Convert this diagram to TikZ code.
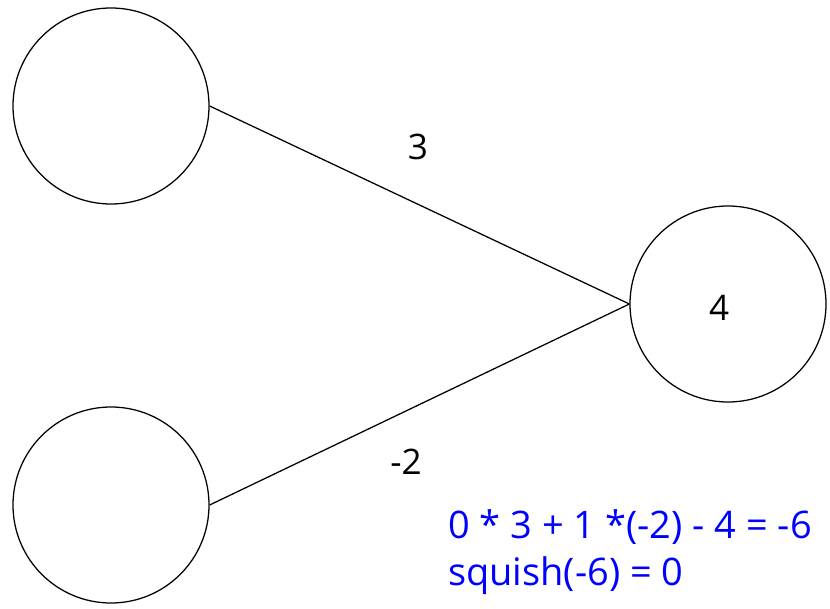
\documentclass[tikz,border=0pt]{standalone}
\usepackage{fontspec}
\setmainfont{Open Sans}
\usepackage{tikz}
\usetikzlibrary{positioning}
\definecolor{Bleu}{RGB}{0,0,255}

\begin{document}
\begin{tikzpicture}[x=1cm,y=1cm,
      neuron/.style={circle,draw=black,line width=0.9pt,minimum size=4.9cm,inner sep=0pt},
      weight/.style={font=\fontsize{25}{30}\selectfont},
      edge/.style={line width=0.9pt,black},
      calc/.style={font=\fontsize{27}{33.5}\selectfont,text=Bleu,align=left}]
    \useasboundingbox (0,0) rectangle (20.75,15.2);

    % Deux entrées et un neurone de sortie.
    \node[neuron] (inA) at (2.775,12.55) {};
    \node[neuron] (inB) at (2.775,2.575) {};
    \node[neuron] (out) at (18.2,7.6) {};
    \node[weight] (bias) at (17.98,7.50) {4};

    \draw[edge] (inA.east) -- (out.west);
    \draw[edge] (inB.east) -- (out.west);
    \node[weight] (wA) at (10.45,11.525) {3};
    \node[weight] (wB) at (10.15,3.65) {-2};

    % Calcul de l'activation.
    \node[calc,anchor=north west,inner sep=0pt] (sum) at (11.20,2.46)
      {0 * 3 + 1 *(-2) - 4 = -6\\squish(-6) = 0};
  \end{tikzpicture}
\end{document}
